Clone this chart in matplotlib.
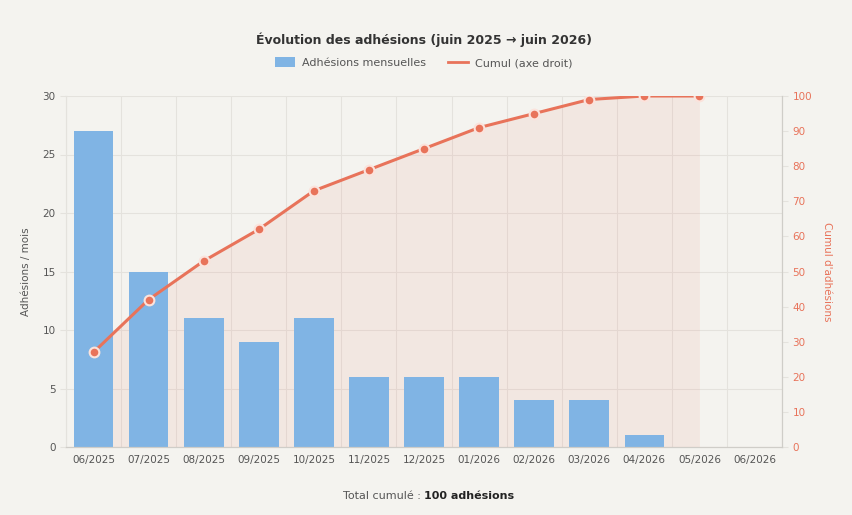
import matplotlib.pyplot as plt
import numpy as np

# Data
months = ["06/2025", "07/2025", "08/2025", "09/2025", "10/2025", "11/2025", "12/2025",
          "01/2026", "02/2026", "03/2026", "04/2026", "05/2026", "06/2026"]
monthly = [27, 15, 11, 9, 11, 6, 6, 6, 4, 4, 1, 0]
cumul = [27, 42, 53, 62, 73, 79, 85, 91, 95, 99, 100, 100]

BG = "#f4f3ef"
BLUE = "#80b4e4"
RED = "#e8735a"
GRID = "#e4e2dd"
TXT = "#555555"

fig = plt.figure(figsize=(8.53, 5.15), dpi=100, facecolor=BG)
ax = fig.add_axes([0.0774, 0.132, 0.8394, 0.6816])
ax.set_facecolor(BG)
ax2 = ax.twinx()

x = np.arange(len(months))
ax.set_xlim(-0.5, len(months) - 0.5)
ax.set_ylim(0, 30)
ax2.set_ylim(0, 100)

# fill under cumul (drawn below bars, in right-axis units)
xc = x[:len(cumul)]
ax.fill_between(xc, 0, cumul, color=RED, alpha=0.09, lw=0, zorder=1, transform=ax2.transData)
ax.bar(x[:len(monthly)], monthly, width=0.72, color=BLUE, zorder=2, label="Adhésions mensuelles")

ax.set_yticks(range(0, 31, 5))
ax.set_xticks(x)
ax.set_xticklabels(months)
ax.set_xticks(np.arange(-0.5, len(months), 1), minor=True)
ax.grid(which="major", axis="y", color=GRID, lw=0.8, zorder=0)
ax.grid(which="minor", axis="x", color=GRID, lw=0.8, zorder=0)
ax.set_axisbelow(True)
ax.tick_params(axis="x", which="both", length=0, labelsize=7.5, labelcolor=TXT, pad=6)
ax.tick_params(axis="y", length=4, color=GRID, labelsize=7.5, labelcolor=TXT)
ax.set_ylabel("Adhésions / mois", fontsize=7.5, color=TXT, labelpad=8)

ax2.plot(xc, cumul, color=RED, lw=2.2, marker="o", ms=7, mfc=RED, mec="#fbe3dc", mew=1.5,
         zorder=3, label="Cumul (axe droit)")
ax2.set_yticks(range(0, 101, 10))
ax2.tick_params(axis="y", length=4, color=GRID, labelsize=7.5, labelcolor=RED)
ax2.set_ylabel("Cumul d'adhésions", fontsize=7.5, color=RED, rotation=270, labelpad=14)
ax2.patch.set_visible(False)

for a in (ax, ax2):
    a.spines["top"].set_visible(False)
    a.spines["left"].set_color(GRID)
    a.spines["right"].set_color("#cfcdc8")
    a.spines["bottom"].set_color("#cfcdc8")

# Legend
h1, l1 = ax.get_legend_handles_labels()
h2, l2 = ax2.get_legend_handles_labels()
leg = fig.legend(h1 + [plt.Line2D([], [], color=RED, lw=2)], l1 + l2, loc="center",
                 bbox_to_anchor=(0.497, 0.878), ncol=2, frameon=False, fontsize=8,
                 handlelength=1.8, handleheight=1.0, columnspacing=2.0, handletextpad=0.6)
for t in leg.get_texts():
    t.set_color(TXT)
leg.legend_handles[0].set_width(14)

fig.text(0.497, 0.922, "Évolution des adhésions (juin 2025 → juin 2026)", ha="center", va="center",
         fontsize=9, fontweight="bold", color="#333333")

fig.text(0.497, 0.037, "Total cumulé : ", ha="right", va="center", fontsize=8, color=TXT)
fig.text(0.497, 0.037, "100 adhésions", ha="left", va="center", fontsize=8, fontweight="bold",
         color="#222222")

fig.savefig("out.png", dpi=100, facecolor=BG)
